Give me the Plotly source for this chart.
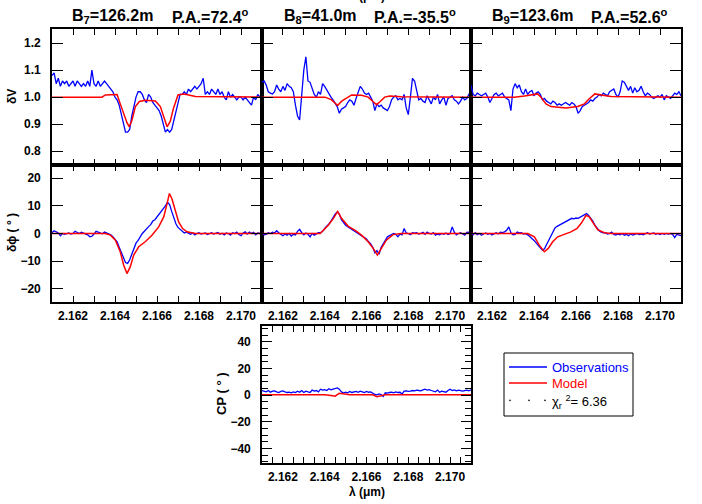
import plotly.graph_objects as go

W, H = 702, 504

WAVE = [2.1610, 2.1611, 2.1612, 2.1613, 2.1614, 2.1615, 2.1616, 2.1617, 2.1618, 2.1619,
        2.1620, 2.1621, 2.1622, 2.1623, 2.1624, 2.1625, 2.1626, 2.1627, 2.1628, 2.1629,
        2.1630, 2.1631, 2.1632, 2.1633, 2.1634, 2.1635, 2.1636, 2.1637, 2.1638, 2.1639,
        2.1640, 2.1641, 2.1642, 2.1643, 2.1644, 2.1645, 2.1646, 2.1647, 2.1648, 2.1649,
        2.1650, 2.1651, 2.1652, 2.1653, 2.1654, 2.1655, 2.1656, 2.1657, 2.1658, 2.1659,
        2.1660, 2.1661, 2.1662, 2.1663, 2.1664, 2.1665, 2.1666, 2.1667, 2.1668, 2.1669,
        2.1670, 2.1671, 2.1672, 2.1673, 2.1674, 2.1675, 2.1676, 2.1677, 2.1678, 2.1679,
        2.1680, 2.1681, 2.1682, 2.1683, 2.1684, 2.1685, 2.1686, 2.1687, 2.1688, 2.1689,
        2.1690, 2.1691, 2.1692, 2.1693, 2.1694, 2.1695, 2.1696, 2.1697, 2.1698, 2.1699,
        2.1700, 2.1701, 2.1702, 2.1703, 2.1704, 2.1705, 2.1706, 2.1707, 2.1708, 2.1709,
        2.1710]

# ---------------- differential visibility (observations) ----------------
B7_DV_OBS = [1.08, 1.09, 1.05, 1.07, 1.04, 1.06, 1.05, 1.06, 1.04, 1.05,
             1.06, 1.04, 1.06, 1.05, 1.04, 1.05, 1.04, 1.06, 1.04, 1.10,
             1.05, 1.04, 1.06, 1.04, 1.05, 1.06, 1.05, 1.04, 1.03, 1.02,
             1.00, 0.99, 0.97, 0.94, 0.91, 0.87, 0.87, 0.88, 0.93, 0.97,
             1.00, 1.02, 1.02, 1.01, 0.99, 0.98, 1.01, 1.00, 0.98, 0.97,
             0.96, 0.95, 0.93, 0.90, 0.87, 0.88, 0.87, 0.88, 0.91, 0.95,
             0.98, 1.01, 1.01, 1.02, 1.01, 1.03, 1.02, 1.03, 1.04, 1.03,
             1.04, 1.05, 1.07, 1.01, 1.02, 1.01, 1.03, 1.02, 1.01, 1.03,
             1.01, 1.02, 1.00, 0.99, 1.02, 1.00, 1.01, 1.00, 0.99, 1.00,
             1.00, 0.99, 1.00, 0.99, 0.98, 0.97, 1.00, 0.99, 1.01, 1.00,
             1.02]
B8_DV_OBS = [1.055, 1.06, 1.045, 1.02, 1.015, 1.012, 1.02, 1.045, 1.03, 1.02,
             1.04, 1.025, 1.05, 1.04, 1.035, 1.02, 0.97, 0.93, 0.915, 1.0,
             1.10, 1.15, 1.06, 1.055, 1.035, 1.01, 1.00, 1.02, 1.01, 1.05,
             1.04, 1.025, 1.01, 1.0, 0.99, 0.975, 0.965, 0.94, 0.955, 0.96,
             0.965, 0.98, 0.99, 0.985, 0.97, 0.995, 1.02, 1.04, 1.03, 1.015,
             1.01, 1.015, 1.0, 0.985, 0.95, 0.975, 0.965, 0.97, 0.96, 0.955,
             0.95, 0.965, 0.99, 1.0, 1.005, 0.99, 0.995, 0.99, 1.01, 0.96,
             0.935, 1.0, 1.07, 1.06, 1.03, 0.99, 0.995, 0.985, 0.98, 1.005,
             0.99, 0.975, 1.0, 0.99, 1.01, 0.975, 0.99, 1.0, 0.97, 0.995,
             1.0, 1.005, 0.99, 0.985, 0.975, 0.985, 1.0, 0.99, 0.995, 1.01,
             1.025]
B9_DV_OBS = [1.045, 1.01, 1.005, 1.015, 1.01, 1.005, 1.01, 1.015, 1.0, 0.98,
             0.995, 1.01, 1.015, 1.005, 1.01, 1.015, 1.0, 0.995, 0.99, 0.95,
             1.03, 1.05, 1.035, 1.045, 1.02, 1.01, 1.03, 1.01, 1.02, 1.025,
             1.005, 1.015, 1.02, 1.01, 0.99, 0.995, 0.985, 0.98, 0.975, 0.985,
             0.98, 0.97, 0.975, 0.97, 0.975, 0.98, 0.975, 0.97, 0.98, 0.975,
             0.965, 0.94, 0.95, 0.965, 0.97, 0.975, 0.98, 0.99, 0.985, 0.995,
             1.0, 1.01, 1.005, 1.015, 1.01, 1.005, 1.02, 1.025, 1.03, 1.01,
             1.0, 1.02, 1.06, 1.055, 1.04, 1.025, 1.04, 1.015, 1.035, 1.02,
             1.025, 1.04, 1.02, 1.005, 1.015, 1.01, 1.0, 0.995, 1.0, 1.005,
             1.0, 1.01, 0.99, 1.005, 1.0, 0.995, 1.005, 1.015, 1.01, 1.02,
             1.005]

# ---------------- differential phase (observations) ----------------
B7_DP_OBS = [0.3, 1.0, 0.6, 0.2, -0.8, 0.0, -0.3, 0.1, 0.2, -0.2,
             0.0, 0.8, 0.3, 0.0, 0.5, 0.2, -0.2, -0.5, -1.2, -1.0,
             -0.2, 0.8, 0.5, 0.3, -0.1, 0.5, 0.2, -0.3, -0.5, -1.2,
             -2.0, -3.0, -5.0, -7.0, -8.5, -10.5, -10.8, -9.5, -7.5, -5.5,
             -3.5, -2.5, -1.2, 0.0, 0.8, 1.8, 2.5, 3.2, 4.5, 5.0,
             6.0, 7.0, 8.0, 8.8, 10.0, 11.3, 10.5, 8.0, 5.5, 3.5,
             2.2, 1.5, 0.6, 0.2, 0.5, 0.1, -0.3, 0.2, -0.5, 0.0,
             0.3, -0.2, 0.0, 0.2, -0.4, 0.1, 0.3, -0.2, 0.0, 0.4,
             -0.3, 0.1, -0.5, 0.2, 0.0, -0.6, 0.3, 0.0, 0.5, -0.4,
             -0.8, 0.2, 0.6, -0.2, 0.5, 0.0, 0.4, -0.5, 0.2, 0.0,
             0.3]
B8_DP_OBS = [0.0, -0.5, -0.3, 0.3, 0.0, 0.5, 0.2, 1.0, 0.3, -0.3,
             -0.8, -0.2, -0.6, 0.0, -0.9, -0.3, -0.5, 0.8, 1.5, 0.3,
             -0.5, 0.2, -0.3, -1.2, 0.0, -0.6, -0.1, 0.3, 0.3, 0.8,
             1.8, 2.5, 3.5, 4.5, 6.0, 7.0, 7.8, 7.0, 5.0, 4.0,
             3.0, 2.5, 2.0, 1.5, 1.2, 0.5, 0.0, -0.3, -1.0, -1.5,
             -2.0, -3.0, -3.8, -5.0, -7.0, -6.2, -7.5, -5.0, -3.5, -2.5,
             -1.2, -0.8, -0.5, 0.0, -0.3, -1.2, -0.2, -0.5, 1.8, 0.2,
             0.0, -0.4, 0.3, 0.1, 0.3, -0.2, 0.0, 0.4, -0.3, 0.5,
             0.0, -0.2, 0.3, -0.6, -0.2, -0.5, 0.0, -0.3, 0.2, -0.4,
             0.0, 2.4, 0.5, -0.5, 0.0, 0.3, -0.2, -0.6, 0.4, 0.5,
             0.0]
B9_DP_OBS = [0.2, -0.5, 0.3, -0.4, 0.0, -0.6, -0.2, 0.2, -0.3, 0.0,
             -0.5, 0.0, 0.3, -0.2, 0.5, 0.3, 0.6, 1.2, 2.4, 0.3,
             -0.5, -0.3, 0.5, 0.2, 0.3, -0.2, 0.0, -0.5, -1.0, -1.8,
             -2.5, -3.5, -4.5, -5.2, -6.0, -5.5, -4.0, -2.5, -0.5, 1.0,
             2.0, 2.6, 3.0, 3.5, 3.8, 4.0, 4.5, 5.0, 5.5, 5.3,
             5.6, 5.5, 6.0, 6.2, 6.8, 7.2, 6.5, 5.5, 4.5, 3.0,
             1.8, 1.0, 0.5, 0.2, 0.3, -0.2, 0.0, 0.5, -0.3, -0.6,
             -0.2, -0.5, 0.0, -0.6, -0.3, -0.8, -0.2, -0.6, -0.3, 0.0,
             -0.4, -0.2, -0.5, 0.0, 0.3, -0.2, 0.0, 0.2, -0.3, 0.0,
             -0.4, 0.0, -0.3, 0.0, -0.2, 0.0, -0.3, -1.5, -0.3, -0.6,
             -0.8]

# ---------------- closure phase (observations) ----------------
CP_OBS = [3.5, 3.0, 2.5, 3.5, 2.2, 3.0, 3.2, 2.5, 2.0, 2.8,
          3.2, 2.5, 2.0, 2.2, 1.8, 2.5, 2.0, 3.0, 2.2, 3.5,
          2.0, 3.0, 2.5, 2.0, 3.8, 3.0, 3.5, 2.5, 4.5, 3.8,
          4.2, 3.5, 4.8, 4.0, 4.5, 5.0, 5.5, 4.5, 2.5, 1.5,
          2.2, 1.8, 2.8, 2.0, 2.5, 2.8, 2.2, 3.0, 2.5, 2.0,
          2.8, 2.2, 2.5, 1.5, 0.5, 0.2, 1.0, 0.5, -1.0, 1.8,
          1.5, 2.0, 2.2, 1.8, 2.5, 2.0, 2.2, 0.8, 3.0, 3.2,
          2.8, 3.0, 3.5, 3.2, 3.8, 3.5, 3.2, 4.0, 4.5, 3.8,
          4.2, 3.5, 3.0, 2.5, 3.8, 2.2, 3.0, 2.8, 2.2, 3.5,
          4.5, 3.5, 4.0, 3.2, 3.8, 3.5, 3.0, 3.5, 3.8, 3.2,
          4.0]

# ---------------- model curves ----------------
B7_DV_MOD_X = [2.1610, 2.16338, 2.16354, 2.16378, 2.16410, 2.16425, 2.16441, 2.16457, 2.16468,
               2.16481, 2.16497, 2.16516, 2.16544, 2.16592, 2.16616, 2.16632, 2.16648, 2.16663,
               2.16679, 2.16700, 2.16727, 2.16751, 2.16783, 2.1710]
B7_DV_MOD_Y = [1.0, 1.0, 1.008, 1.01, 1.01, 0.975, 0.94, 0.905, 0.89,
               0.915, 0.965, 0.984, 0.988, 0.986, 0.965, 0.925, 0.89, 0.91,
               0.96, 1.008, 1.012, 1.008, 1.002, 1.0]
B8_DV_MOD_X = [2.1610, 2.16402, 2.16433, 2.16462, 2.16481, 2.16505, 2.16529, 2.16576, 2.16608,
               2.16632, 2.16648, 2.16663, 2.16687, 2.16711, 2.16767, 2.1710]
B8_DV_MOD_Y = [1.0, 1.0, 0.99, 0.969, 0.985, 0.998, 1.008, 1.007, 1.0,
               0.983, 0.972, 0.982, 1.0, 1.004, 1.001, 1.0]
B9_DV_MOD_X = [2.1610, 2.16306, 2.16354, 2.16417, 2.16433, 2.16457, 2.16481, 2.16552, 2.16608,
               2.16640, 2.16663, 2.16690, 2.16719, 2.16767, 2.1710]
B9_DV_MOD_Y = [1.0, 1.0, 1.004, 1.012, 1.0, 0.975, 0.965, 0.96, 0.965,
               0.975, 0.994, 1.012, 1.008, 1.002, 1.0]

B7_DP_MOD_X = [2.1610, 2.16354, 2.16378, 2.16402, 2.16425, 2.16441, 2.16457, 2.16473, 2.16489,
               2.16513, 2.16544, 2.16576, 2.16608, 2.16632, 2.16648, 2.16659, 2.16671, 2.16687,
               2.16703, 2.16722, 2.16743, 2.16783, 2.1710]
B7_DP_MOD_Y = [0.0, 0.0, -0.6, -2.4, -6.6, -11.4, -14.5, -12.0, -7.8,
               -4.8, -3.0, -0.6, 2.4, 6.0, 10.8, 14.5, 12.6, 8.4,
               4.2, 1.8, 0.6, 0.0, 0.0]
B8_DP_MOD_X = [2.1610, 2.16378, 2.16417, 2.16441, 2.16462, 2.16481, 2.16513, 2.16544, 2.16576,
               2.16608, 2.16632, 2.16652, 2.16671, 2.16695, 2.16727, 2.16767, 2.1710]
B8_DP_MOD_Y = [0.0, 0.0, 3.0, 5.4, 8.0, 5.4, 2.6, 1.2, -0.6,
               -3.0, -5.4, -7.8, -5.4, -2.4, -0.4, 0.0, 0.0]
B9_DP_MOD_X = [2.1610, 2.16370, 2.16402, 2.16425, 2.16449, 2.16468, 2.16489, 2.16513, 2.16544,
               2.16576, 2.16605, 2.16624, 2.16648, 2.16663, 2.16684, 2.16703, 2.16735, 2.16767, 2.1710]
B9_DP_MOD_Y = [0.0, 0.0, -1.2, -4.2, -6.6, -5.4, -3.0, -1.2, -0.3,
               0.6, 1.8, 3.6, 6.6, 6.0, 3.6, 1.4, 0.3, 0.0, 0.0]

CP_MOD_X = [2.1610, 2.1640, 2.1643, 2.1645, 2.1647, 2.1649, 2.1652, 2.1663, 2.1665, 2.1667, 2.1669, 2.1710]
CP_MOD_Y = [0.3, 0.3, -0.3, -0.8, 1.5, 0.8, 0.3, 0.3, -1.2, -0.5, 0.4, 0.3]

TITLES_B = ["B<sub>7</sub>=126.2m", "B<sub>8</sub>=41.0m", "B<sub>9</sub>=123.6m"]
TITLES_PA = ["P.A.=72.4<sup>o</sup>", "P.A.=-35.5<sup>o</sup>", "P.A.=52.6<sup>o</sup>"]
CHI2_TEXT = "χ<sub>r</sub> <sup>2</sup>= 6.36"

FONT = "Liberation Sans, Arial, sans-serif"
BLUE = "#0000ff"
RED = "#ff0000"


def fx(px):
    return px / W


def fy(py):
    return 1 - py / H


# panel pixel boxes: (x0, x1), (y0, y1)
COLS = [(52, 262), (262, 471), (471, 681)]
ROW1 = (29, 165)
ROW2 = (165, 302)
ROW3 = (326, 463)

panels = [
    dict(box=(COLS[0], ROW1), kind="dv", obs=B7_DV_OBS, mx=B7_DV_MOD_X, my=B7_DV_MOD_Y, ylab=True, xlab=False),
    dict(box=(COLS[1], ROW1), kind="dv", obs=B8_DV_OBS, mx=B8_DV_MOD_X, my=B8_DV_MOD_Y, ylab=False, xlab=False),
    dict(box=(COLS[2], ROW1), kind="dv", obs=B9_DV_OBS, mx=B9_DV_MOD_X, my=B9_DV_MOD_Y, ylab=False, xlab=False),
    dict(box=(COLS[0], ROW2), kind="dp", obs=B7_DP_OBS, mx=B7_DP_MOD_X, my=B7_DP_MOD_Y, ylab=True, xlab=True),
    dict(box=(COLS[1], ROW2), kind="dp", obs=B8_DP_OBS, mx=B8_DP_MOD_X, my=B8_DP_MOD_Y, ylab=False, xlab=True),
    dict(box=(COLS[2], ROW2), kind="dp", obs=B9_DP_OBS, mx=B9_DP_MOD_X, my=B9_DP_MOD_Y, ylab=False, xlab=True),
    dict(box=(COLS[1], ROW3), kind="cp", obs=CP_OBS, mx=CP_MOD_X, my=CP_MOD_Y, ylab=True, xlab=True),
]

fig = go.Figure()
tickfont = dict(family=FONT, size=12, color="black", weight="bold")
layout = {}

for k, p in enumerate(panels, start=1):
    sx = "" if k == 1 else str(k)
    (x0, x1), (y0, y1) = p["box"]
    fig.add_trace(go.Scatter(x=WAVE, y=p["obs"], mode="lines", xaxis="x" + sx, yaxis="y" + sx,
                             line=dict(color=BLUE, width=1.3), showlegend=False, hoverinfo="skip"))
    fig.add_trace(go.Scatter(x=p["mx"], y=p["my"], mode="lines", xaxis="x" + sx, yaxis="y" + sx,
                             line=dict(color=RED, width=1.5), showlegend=False, hoverinfo="skip"))
    xminor = 0.0005 if p["kind"] == "cp" else 0.001
    layout["xaxis" + sx] = dict(
        domain=[fx(x0), fx(x1)], anchor="y" + sx, range=[2.161, 2.171],
        showline=True, linecolor="black", linewidth=1.6, mirror="ticks",
        ticks="inside", ticklen=6, tickwidth=1.2, tickcolor="black",
        dtick=0.002, tick0=2.162, tickformat=".3f",
        minor=dict(dtick=xminor, ticks="inside", ticklen=6, tickwidth=1.2, tickcolor="black", showgrid=False),
        showgrid=False, zeroline=False, showticklabels=p["xlab"], tickfont=tickfont,
        ticklabelstandoff=2,
    )
    ya = dict(domain=[fy(y1), fy(y0)], anchor="x" + sx,
              showline=True, linecolor="black", linewidth=1.6, mirror="ticks",
              ticks="inside", ticklen=11, tickwidth=1.2, tickcolor="black",
              showgrid=False, zeroline=False, showticklabels=p["ylab"], tickfont=tickfont,
              ticklabelstandoff=7)
    if p["kind"] == "dv":
        ya.update(range=[0.748, 1.253], dtick=0.1, tick0=0.8, tickformat=".1f")
    elif p["kind"] == "dp":
        ya.update(range=[-24.8, 24.8], dtick=10, tick0=0)
    else:
        ya.update(range=[-51, 52], dtick=20, tick0=0, ticklen=10,
                  minor=dict(dtick=5, ticks="inside", ticklen=6, tickwidth=1.2, tickcolor="black", showgrid=False))
    layout["yaxis" + sx] = ya

annotations = []
title_font = dict(family=FONT, size=16, color="black", weight="bold")
B_X = [70, 282, 490]
PA_X = [170, 372, 589]
for i in range(3):
    annotations.append(dict(text=TITLES_B[i], x=fx(B_X[i]), y=fy(17), xref="paper", yref="paper",
                            xanchor="left", yanchor="middle", showarrow=False, font=title_font))
    annotations.append(dict(text=TITLES_PA[i], x=fx(PA_X[i]), y=fy(16), xref="paper", yref="paper",
                            xanchor="left", yanchor="middle", showarrow=False, font=title_font))

lab_font = dict(family=FONT, size=12, color="black", weight="bold")
annotations += [
    dict(text="δV", x=fx(12), y=fy(97), xref="paper", yref="paper", textangle=-90,
         showarrow=False, font=lab_font, xanchor="center", yanchor="middle"),
    dict(text="δϕ ( ° )", x=fx(12), y=fy(233), xref="paper", yref="paper", textangle=-90,
         showarrow=False, font=lab_font, xanchor="center", yanchor="middle"),
    dict(text="CP ( ° )", x=fx(221), y=fy(394), xref="paper", yref="paper", textangle=-90,
         showarrow=False, font=dict(family=FONT, size=13, color="black", weight="bold"),
         xanchor="center", yanchor="middle"),
    dict(text="λ (μm)", x=fx(367), y=fy(492), xref="paper", yref="paper",
         showarrow=False, font=lab_font, xanchor="center", yanchor="middle"),
    dict(text="λ (μm)", x=fx(367), y=fy(-4), xref="paper", yref="paper",
         showarrow=False, font=lab_font, xanchor="center", yanchor="middle"),
]

# legend (drawn manually)
leg_font = dict(family=FONT, size=13)
annotations += [
    dict(text="Observations", x=fx(550), y=fy(367), xref="paper", yref="paper", xanchor="left",
         yanchor="middle", showarrow=False, font=dict(color=BLUE, **leg_font)),
    dict(text="Model", x=fx(550), y=fy(383), xref="paper", yref="paper", xanchor="left",
         yanchor="middle", showarrow=False, font=dict(color=RED, **leg_font)),
    dict(text=CHI2_TEXT, x=fx(550), y=fy(402), xref="paper", yref="paper", xanchor="left",
         yanchor="middle", showarrow=False, font=dict(color="black", **leg_font)),
]
shapes = [
    dict(type="rect", xref="paper", yref="paper", x0=fx(504), x1=fx(633), y0=fy(416), y1=fy(353),
         line=dict(color="black", width=1), fillcolor="white", layer="below"),
    dict(type="line", xref="paper", yref="paper", x0=fx(509), x1=fx(547), y0=fy(367), y1=fy(367),
         line=dict(color=BLUE, width=1.3)),
    dict(type="line", xref="paper", yref="paper", x0=fx(509), x1=fx(547), y0=fy(383), y1=fy(383),
         line=dict(color=RED, width=1.3)),
]
for dx in (510, 529, 545):
    shapes.append(dict(type="circle", xref="paper", yref="paper", x0=fx(dx - 0.8), x1=fx(dx + 0.8),
                       y0=fy(401.2), y1=fy(399.6), fillcolor="black", line=dict(width=0)))

fig.update_layout(
    width=W, height=H, margin=dict(l=0, r=0, t=0, b=0),
    paper_bgcolor="white", plot_bgcolor="white",
    annotations=annotations, shapes=shapes, showlegend=False,
    **layout,
)

fig.write_html("out.html", config={"displayModeBar": False},
               post_script="document.body.style.margin='0px';")
